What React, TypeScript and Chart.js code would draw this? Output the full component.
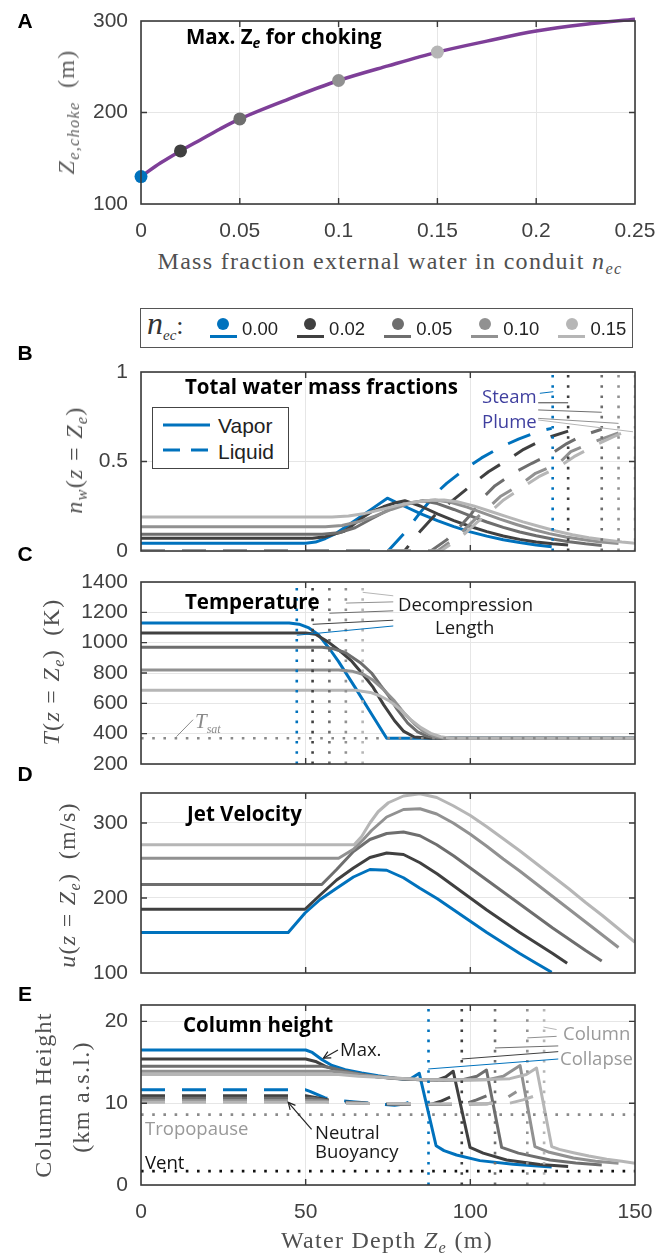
import React, { useEffect, useRef } from "react";
import { Chart, registerables } from "chart.js";
Chart.register(...registerables);

type P = number[][];

// ---------- shared ----------
const nEcLabels = ["0.00", "0.02", "0.05", "0.10", "0.15"];
const seriesColors = ["#0072BD", "#404040", "#6E6E6E", "#919191", "#B6B6B6"];

// ---------- Panel A ----------
const massFraction = [0, 0.01, 0.02, 0.03, 0.04, 0.05, 0.075, 0.1, 0.125, 0.15, 0.175, 0.2, 0.225, 0.25];
const zChoke = [130, 145, 158, 170, 182, 193, 215, 235, 251, 266, 278, 289, 296.5, 302];
const markerFraction = [0, 0.02, 0.05, 0.1, 0.15];
const markerZChoke = [130, 158, 193, 235, 266];

// ---------- Panel B (water mass fractions) ----------
const vapor000: P = [[0,0.043],[50,0.043],[53,0.05],[56,0.07],[59.4,0.1],[65,0.17],[70,0.234],[74.8,0.295],[80,0.25],[85,0.208],[90,0.17],[95,0.136],[100,0.107],[105,0.083],[110,0.063],[115,0.047],[120,0.034],[124.7,0.024]];
const vapor002: P = [[0,0.071],[52,0.071],[56,0.08],[61.4,0.108],[64,0.14],[67.5,0.19],[70,0.22],[73.6,0.247],[77,0.268],[80.1,0.281],[85,0.25],[90,0.208],[95,0.17],[100,0.137],[105,0.108],[110,0.084],[115,0.065],[120,0.05],[125,0.04],[129.7,0.034]];
const vapor005: P = [[0,0.093],[55,0.093],[60,0.102],[65,0.13],[70,0.18],[75,0.228],[80,0.263],[85.6,0.281],[90,0.265],[95,0.232],[100,0.196],[105,0.162],[110,0.132],[115,0.106],[120,0.085],[125,0.067],[130,0.052],[135,0.04],[139.9,0.031]];
const vapor010: P = [[0,0.136],[56,0.136],[61,0.142],[66,0.163],[71,0.195],[76,0.232],[81,0.262],[85,0.278],[89.3,0.285],[94,0.272],[99,0.245],[104,0.212],[109,0.178],[114,0.148],[119,0.12],[124,0.097],[129,0.078],[134,0.064],[139,0.052],[145,0.042]];
const vapor015: P = [[0,0.19],[58,0.19],[63,0.195],[68,0.21],[73,0.232],[78,0.255],[83,0.274],[88,0.284],[92,0.285],[96,0.275],[101,0.252],[106,0.222],[111,0.192],[116,0.163],[121,0.137],[126,0.112],[131,0.091],[136,0.074],[141,0.061],[146,0.05],[150,0.043]];
const liquid000: P = [[0,0],[75,0],[80,0.1],[85,0.22],[90,0.33],[92.8,0.378],[98.9,0.465],[103.4,0.52],[109.5,0.583],[114.6,0.625],[121.2,0.672],[124.7,0.685]];
const liquid002: P = [[0,0],[80,0],[85,0.115],[90,0.215],[95.4,0.294],[101,0.378],[105.5,0.443],[111.6,0.512],[116.2,0.568],[122.8,0.629],[129.7,0.67]];
const liquid005: P = [[0,0],[88,0],[93,0.065],[97,0.14],[100.4,0.21],[103.4,0.29],[107.5,0.365],[113.6,0.44],[118.7,0.49],[124.3,0.54],[129.3,0.6],[134,0.645],[139.9,0.68]];
const liquid010: P = [[0,0],[90,0],[96,0.08],[101,0.17],[106,0.25],[109.1,0.304],[115.7,0.378],[119.8,0.434],[126.9,0.49],[130.5,0.555],[137.6,0.61],[145,0.66]];
const liquid015: P = [[0,0],[91,0],[97,0.075],[102,0.16],[107,0.235],[110.1,0.285],[116.2,0.36],[120.8,0.415],[126.9,0.471],[131.5,0.527],[138.1,0.592],[143,0.635],[150,0.69]];
const steamPlumeDepths = [125, 129.7, 139.9, 145, 150];

// ---------- Panel C (temperature) ----------
const temp000: P = [[0,1130],[45,1130],[48,1122],[51,1097],[54,1050],[57.4,955],[60,875],[65,705],[70,530],[74.6,370],[150,370]];
const temp002: P = [[0,1063],[50,1063],[53,1055],[57,1002],[61,935],[64,878],[67.6,785],[70.5,705],[73.7,590],[77,485],[79.8,415],[83,378],[88,370],[150,370]];
const temp005: P = [[0,970],[55,970],[58,962],[62,935],[66.6,868],[70,800],[72.7,720],[75,655],[77.8,560],[81,470],[84,412],[87,382],[90,370],[150,370]];
const temp010: P = [[0,820],[60,820],[64,812],[67.6,790],[70.5,752],[73.7,690],[77,615],[79.8,538],[83,465],[85.9,412],[89,382],[92,370],[150,370]];
const temp015: P = [[0,687],[65,687],[69.6,672],[72.5,650],[75.7,612],[79,555],[81.9,492],[85,440],[88,402],[91,380],[94,370],[150,370]];
const tSat = 370;
const decompressionLengths = [47.3, 52.1, 57.2, 62.2, 67.3];

// ---------- Panel D (jet velocity) ----------
const velocity000: P = [[0,154],[44.7,154],[49.8,180],[54.4,198],[59.4,213],[64.5,228],[69.5,238],[74.6,237],[79.7,227],[84.7,213],[90,199],[95,184],[100,169],[105,154],[110,140],[115,126],[120,113],[124.7,101]];
const velocity002: P = [[0,185],[49.8,185],[54.4,204],[59.4,224],[64.5,240],[69.5,254],[74.6,260],[79.7,258],[84.7,247],[90,232],[95,216],[100,200],[105,184],[110,169],[115,154],[120,140],[125,126],[129.4,113]];
const velocity005: P = [[0,218],[54.9,218],[59.4,238],[64.5,262],[69.5,278],[74.6,286],[79.7,288],[84.7,283],[89.8,271],[95,256],[100,240],[105,224],[110,208],[115,192],[120,176],[125,160],[130,145],[135,130],[139.9,116]];
const velocity010: P = [[0,253],[60,253],[64.5,265],[67.5,278],[70,290],[74.6,308],[79.7,318],[84.7,319],[89.8,312],[94.8,300],[100,285],[105,269],[110,252],[115,236],[120,219],[125,202],[130,185],[135,168],[140,151],[145,134]];
const velocity015: P = [[0,271],[64.7,271],[67,282],[69.5,300],[72,315],[75.1,327],[79.7,336],[84.7,339],[89.8,334],[94.8,323],[100,310],[105,295],[110,279],[115,263],[120,246],[125,229],[130,212],[135,194],[140,177],[145,159],[150,141]];

// ---------- Panel E (column height) ----------
const maxHeight000: P = [[0,16.5],[50,16.5],[52,16.2],[55,15.3],[58,14.6],[62,14.1],[67,13.7],[72,13.35],[77,13.05],[81.5,12.9],[84.5,13.65],[89.6,4.8],[92,4.2],[95.8,3.67],[102.9,2.98],[113,2.53],[124.7,2.2]];
const maxHeight002: P = [[0,15.4],[50,15.4],[53,15.1],[56,14.5],[60,14.0],[65,13.6],[70,13.3],[75,13.1],[80,12.95],[85,12.85],[90,12.85],[92.5,13.2],[94.8,13.9],[99.9,4.6],[103.9,3.9],[111,3.06],[121.1,2.5],[129.7,2.25]];
const maxHeight005: P = [[0,14.5],[55,14.5],[58,14.3],[62,13.9],[67,13.5],[72,13.2],[78,13.0],[85,12.85],[92,12.8],[98,12.9],[102,13.3],[104.9,14.05],[109.5,4.6],[114.6,3.9],[124.2,3.06],[132,2.7],[139.9,2.45]];
const maxHeight010: P = [[0,13.9],[58,13.9],[63,13.7],[68,13.4],[75,13.1],[85,12.9],[95,12.8],[105,12.85],[110,13.3],[115.1,14.6],[119.6,4.7],[124,4.0],[131.3,3.3],[138,2.9],[145,2.65]];
const maxHeight015: P = [[0,13.5],[60,13.5],[66,13.3],[75,13.1],[85,12.9],[95,12.85],[105,12.9],[112,13.0],[117,13.5],[120.1,14.3],[124.7,4.7],[127,4.35],[131.3,3.95],[136,3.55],[141.4,3.15],[146,2.9],[150,2.65]];
const neutral000: P = [[0,11.63],[50,11.63],[51.3,11.45],[55.9,10.65],[60,10.35],[65,10.15],[72,9.9],[77,9.75],[80,9.9],[82.7,10.3],[84.5,10.7]];
const neutral002: P = [[0,10.9],[50,10.9],[53,10.7],[57,10.4],[62,10.15],[70,9.95],[80,9.85],[88,9.85],[90.8,10.2],[94.8,10.9]];
const neutral005: P = [[0,10.6],[52,10.6],[56,10.35],[62,10.1],[70,9.95],[85,9.85],[98,9.85],[101.9,10.4],[104.9,10.9]];
const neutral010: P = [[0,10.3],[54,10.3],[60,10.1],[70,9.95],[90,9.85],[105,9.9],[110,10.4],[114,11.4]];
const neutral015: P = [[0,10.1],[56,10.1],[62,10.0],[75,9.95],[95,9.9],[112,10.0],[116,10.4],[119.6,10.9]];
const tropopauseHeight = 8.6;
const ventHeight = 1.7;
const collapseDepths = [87.3, 97.4, 107.5, 117.3, 122.4];

const vaporSeries = [vapor000, vapor002, vapor005, vapor010, vapor015];
const liquidSeries = [liquid000, liquid002, liquid005, liquid010, liquid015];
const tempSeries = [temp000, temp002, temp005, temp010, temp015];
const velocitySeries = [velocity000, velocity002, velocity005, velocity010, velocity015];
const maxHeightSeries = [maxHeight000, maxHeight002, maxHeight005, maxHeight010, maxHeight015];
const neutralSeries = [neutral000, neutral002, neutral005, neutral010, neutral015];

// ---------- helpers ----------
const serif = '"Liberation Serif", "Times New Roman", serif';
const sans = '"Liberation Sans", Arial, sans-serif';
const myriad = '"Open Sans", "Noto Sans", sans-serif';
const tickFont = { family: sans, size: 21 };
const tickColor = "#404040";
const gridColor = "#e6e6e6";

interface Seg { x1: number; y1: number; x2: number; y2: number; color: string; width?: number; arrow?: boolean }

const toXY = (p: P) => p.map(([x, y]) => ({ x, y }));
const solid = (p: P, color: string, order: number, extra: any = {}) => ({
  data: toXY(p), borderColor: color, borderWidth: 3, pointRadius: 0, fill: false,
  tension: 0, order, borderJoinStyle: "round", borderCapStyle: "butt", ...extra,
});
const dashed = (p: P, color: string, order: number) => solid(p, color, order, { borderDash: [24, 17] });
const dottedV = (x: number, y0: number, y1: number, color: string) => ({
  data: [{ x, y: y0 }, { x, y: y1 }], borderColor: color, borderWidth: 2.6,
  borderDash: [2.6, 7.6], pointRadius: 0, fill: false, order: 0, borderCapStyle: "butt",
});
const dottedH = (y: number, x0: number, x1: number, color: string) => ({
  data: [{ x: x0, y }, { x: x1, y }], borderColor: color, borderWidth: 2.6,
  borderDash: [2.6, 8.6], pointRadius: 0, fill: false, order: 0, borderCapStyle: "butt",
});

const framePlugin = (segs: Seg[]) => ({
  id: "frame",
  afterDraw(chart: any) {
    const { ctx, chartArea: a, scales } = chart;
    const xs = scales.x, ys = scales.y;
    ctx.save();
    for (const s of segs) {
      const x1 = xs.getPixelForValue(s.x1), y1 = ys.getPixelForValue(s.y1);
      const x2 = xs.getPixelForValue(s.x2), y2 = ys.getPixelForValue(s.y2);
      ctx.strokeStyle = s.color; ctx.lineWidth = s.width ?? 1;
      ctx.beginPath(); ctx.moveTo(x1, y1); ctx.lineTo(x2, y2); ctx.stroke();
      if (s.arrow) {
        const ang = Math.atan2(y2 - y1, x2 - x1);
        const L = 7, W = 3.5;
        ctx.beginPath();
        ctx.moveTo(x2 - L * Math.cos(ang) + W * Math.sin(ang), y2 - L * Math.sin(ang) - W * Math.cos(ang));
        ctx.lineTo(x2, y2);
        ctx.lineTo(x2 - L * Math.cos(ang) - W * Math.sin(ang), y2 - L * Math.sin(ang) + W * Math.cos(ang));
        ctx.stroke();
      }
    }
    ctx.strokeStyle = "#3a3a3a";
    ctx.lineWidth = 1.6;
    ctx.strokeRect(a.left, a.top, a.right - a.left, a.bottom - a.top);
    const tl = 6;
    ctx.lineWidth = 1.4;
    ctx.beginPath();
    xs.ticks.forEach((t: any) => {
      const p = xs.getPixelForValue(t.value);
      if (p <= a.left + 1 || p >= a.right - 1) return;
      ctx.moveTo(p, a.bottom); ctx.lineTo(p, a.bottom - tl);
      ctx.moveTo(p, a.top); ctx.lineTo(p, a.top + tl);
    });
    ys.ticks.forEach((t: any) => {
      const p = ys.getPixelForValue(t.value);
      if (p <= a.top + 1 || p >= a.bottom - 1) return;
      ctx.moveTo(a.left, p); ctx.lineTo(a.left + tl, p);
      ctx.moveTo(a.right, p); ctx.lineTo(a.right - tl, p);
    });
    ctx.stroke();
    ctx.restore();
  },
});

interface Spec {
  datasets: any[]; xMin: number; xMax: number; xStep: number;
  yMin: number; yMax: number; yStep: number; padTop: number; xH: number; showX: boolean; segs: Seg[];
}
const fmt = (v: number) => String(Math.round(v * 1000) / 1000);

function makeConfig(s: Spec): any {
  return {
    type: "line",
    data: { datasets: s.datasets },
    options: {
      responsive: false, animation: false, devicePixelRatio: 1, events: [],
      layout: { padding: { top: s.padTop, right: 20, left: 0, bottom: 0 } },
      plugins: { legend: { display: false }, tooltip: { enabled: false } },
      scales: {
        x: {
          type: "linear", min: s.xMin, max: s.xMax,
          ticks: { stepSize: s.xStep, display: s.showX, color: tickColor, font: tickFont, padding: 15,
            maxRotation: 0, autoSkip: false, includeBounds: false, callback: (v: number) => fmt(v) },
          grid: { color: gridColor, lineWidth: 1, drawTicks: false },
          border: { display: false },
          afterFit: (sc: any) => { sc.height = s.xH; sc.paddingLeft = 0; sc.paddingRight = 0; },
        },
        y: {
          type: "linear", min: s.yMin, max: s.yMax,
          ticks: { stepSize: s.yStep, color: tickColor, font: tickFont, padding: 13,
            autoSkip: false, includeBounds: false, callback: (v: number) => fmt(v) },
          grid: { color: gridColor, lineWidth: 1, drawTicks: false },
          border: { display: false },
          afterFit: (sc: any) => { sc.width = 141; sc.paddingTop = 0; sc.paddingBottom = 0; },
        },
      },
    },
    plugins: [framePlugin(s.segs)],
  };
}

// ---------- text helpers ----------
function Txt(props: { x: number; y: number; c?: boolean; rot?: boolean; style?: React.CSSProperties; children: React.ReactNode }) {
  let transform = props.c ? "translate(-50%,-50%)" : "translateY(-50%)";
  if (props.rot) transform = "translate(-50%,-50%) rotate(-90deg)";
  return (
    <div style={{ position: "absolute", left: props.x, top: props.y, transform, whiteSpace: "nowrap", lineHeight: 1, ...props.style }}>
      {props.children}
    </div>
  );
}
const Sub = ({ children }: { children: React.ReactNode }) => (
  <span style={{ fontSize: "0.68em", position: "relative", top: "0.3em" }}>{children}</span>
);
const I = ({ children }: { children: React.ReactNode }) => <span style={{ fontStyle: "italic" }}>{children}</span>;

const axisTitle: React.CSSProperties = { fontFamily: serif, fontSize: 24, letterSpacing: 1.3, color: "#505050" };
const boldTitle: React.CSSProperties = { fontFamily: myriad, fontWeight: 700, fontSize: 20.5, color: "#000" };
const note: React.CSSProperties = { fontFamily: myriad, fontSize: 18.5, color: "#1a1a1a" };
const letter: React.CSSProperties = { fontFamily: sans, fontWeight: 700, fontSize: 21, color: "#000" };

export default function App() {
  const refA = useRef<HTMLCanvasElement>(null);
  const refB = useRef<HTMLCanvasElement>(null);
  const refC = useRef<HTMLCanvasElement>(null);
  const refD = useRef<HTMLCanvasElement>(null);
  const refE = useRef<HTMLCanvasElement>(null);

  useEffect(() => {
    const charts: Chart[] = [];
    const order = (i: number) => 10 - i;

    // A
    charts.push(new Chart(refA.current!, makeConfig({
      datasets: [
        { data: markerFraction.map((x, i) => ({ x, y: markerZChoke[i] })), showLine: false, pointRadius: 6.5,
          pointBackgroundColor: seriesColors, pointBorderWidth: 0, order: -1, clip: false },
        { data: massFraction.map((x, i) => ({ x, y: zChoke[i] })), borderColor: "#7E3F98", borderWidth: 3.5,
          pointRadius: 0, cubicInterpolationMode: "monotone", fill: false, order: 5, clip: 6 },
      ],
      xMin: 0, xMax: 0.25, xStep: 0.05, yMin: 100, yMax: 300, yStep: 100, padTop: 21, xH: 44, showX: true, segs: [],
    })));

    // B
    const dsB: any[] = [];
    for (let i = 0; i < 5; i++) {
      dsB.push(solid(vaporSeries[i], seriesColors[i], order(i)));
      dsB.push(dashed(liquidSeries[i], seriesColors[i], order(i)));
      dsB.push(dottedV(steamPlumeDepths[i], 0, 1, seriesColors[i]));
    }
    charts.push(new Chart(refB.current!, makeConfig({
      datasets: dsB, xMin: 0, xMax: 150, xStep: 50, yMin: 0, yMax: 1, yStep: 0.5, padTop: 16, xH: 14, showX: false,
      segs: [
        { x1: 121.1, y1: 0.881, x2: 125.2, y2: 0.89, color: seriesColors[0] },
        { x1: 120.6, y1: 0.828, x2: 129.7, y2: 0.828, color: seriesColors[1] },
        { x1: 120.6, y1: 0.788, x2: 139.9, y2: 0.775, color: seriesColors[2] },
        { x1: 120.6, y1: 0.741, x2: 145, y2: 0.713, color: seriesColors[3] },
        { x1: 120.6, y1: 0.732, x2: 149.4, y2: 0.666, color: seriesColors[4] },
      ],
    })));

    // C
    const dsC: any[] = [dottedH(tSat, 0, 150, "#8a8a8a")];
    for (let i = 0; i < 5; i++) {
      dsC.push(solid(tempSeries[i], seriesColors[i], order(i)));
      dsC.push(dottedV(decompressionLengths[i], 200, 1400, seriesColors[i]));
    }
    charts.push(new Chart(refC.current!, makeConfig({
      datasets: dsC, xMin: 0, xMax: 150, xStep: 50, yMin: 200, yMax: 1400, yStep: 200, padTop: 16, xH: 14, showX: false,
      segs: [
        { x1: 76.6, y1: 1110, x2: 47.3, y2: 1049, color: seriesColors[0] },
        { x1: 76.6, y1: 1148, x2: 52.1, y2: 1121, color: seriesColors[1] },
        { x1: 76.6, y1: 1210, x2: 57.2, y2: 1194, color: seriesColors[2] },
        { x1: 76.6, y1: 1269, x2: 62.2, y2: 1261, color: seriesColors[3] },
        { x1: 76.6, y1: 1309, x2: 67.3, y2: 1332, color: seriesColors[4] },
        { x1: 10.8, y1: 381, x2: 15.8, y2: 492, color: "#8a8a8a" },
      ],
    })));

    // D
    const dsD: any[] = velocitySeries.map((s, i) => solid(s, seriesColors[i], order(i)));
    charts.push(new Chart(refD.current!, makeConfig({
      datasets: dsD, xMin: 0, xMax: 150, xStep: 50, yMin: 100, yMax: 340, yStep: 100, padTop: 15, xH: 14, showX: false, segs: [],
    })));

    // E
    const dsE: any[] = [dottedH(tropopauseHeight, 0, 150, "#8a8a8a"), dottedH(ventHeight, 0, 150, "#111111")];
    for (let i = 0; i < 5; i++) {
      dsE.push(solid(maxHeightSeries[i], seriesColors[i], order(i)));
      dsE.push(dashed(neutralSeries[i], seriesColors[i], order(i)));
      dsE.push(dottedV(collapseDepths[i], 0, 22, seriesColors[i]));
    }
    charts.push(new Chart(refE.current!, makeConfig({
      datasets: dsE, xMin: 0, xMax: 150, xStep: 50, yMin: 0, yMax: 22, yStep: 10, padTop: 17, xH: 44, showX: true,
      segs: [
        { x1: 87.2, y1: 14.18, x2: 126.7, y2: 15.4, color: seriesColors[0] },
        { x1: 97.4, y1: 15.4, x2: 126.7, y2: 16.3, color: seriesColors[1] },
        { x1: 107.5, y1: 16.75, x2: 126.7, y2: 17.0, color: seriesColors[2] },
        { x1: 117.3, y1: 17.98, x2: 126.2, y2: 18.17, color: seriesColors[3] },
        { x1: 122.2, y1: 19.3, x2: 126.2, y2: 19.0, color: seriesColors[4] },
        { x1: 59.8, y1: 16.5, x2: 55.4, y2: 15.5, color: "#222", width: 1.2, arrow: true },
        { x1: 51.8, y1: 6.8, x2: 44.7, y2: 10.1, color: "#222", width: 1.2, arrow: true },
      ],
    })));

    return () => charts.forEach((c) => c.destroy());
  }, []);

  const cv = (top: number, h: number): React.CSSProperties => ({ position: "absolute", left: 0, top, width: 655, height: h });

  return (
    <div style={{ position: "absolute", left: 0, top: 0, width: 655, height: 1257, background: "#fff", overflow: "hidden" }}>
      <canvas ref={refA} width={655} height={248} style={cv(0, 248)} />
      <canvas ref={refB} width={655} height={209} style={cv(356, 209)} />
      <canvas ref={refC} width={655} height={212} style={cv(566, 212)} />
      <canvas ref={refD} width={655} height={209} style={cv(778, 209)} />
      <canvas ref={refE} width={655} height={241} style={cv(988, 241)} />

      {/* panel letters */}
      <Txt x={25} y={20} c style={letter}>A</Txt>
      <Txt x={25} y={352} c style={letter}>B</Txt>
      <Txt x={25} y={553} c style={letter}>C</Txt>
      <Txt x={25} y={773} c style={letter}>D</Txt>
      <Txt x={25} y={993} c style={letter}>E</Txt>

      {/* axis titles */}
      <Txt x={66} y={112} rot style={{ ...axisTitle, color: "#606060" }}>
        <I>Z</I><Sub><I>e,choke</I></Sub>{"\u2002"}(m)
      </Txt>
      <Txt x={390} y={261} c style={axisTitle}>
        Mass fraction external water in conduit <I>n</I><Sub><I>ec</I></Sub>
      </Txt>
      <Txt x={74} y={460} rot style={axisTitle}>
        <I>n</I><Sub><I>w</I></Sub>(<I>z</I> = <I>Z</I><Sub><I>e</I></Sub>)
      </Txt>
      <Txt x={51} y={672} rot style={axisTitle}>
        <I>T</I>(<I>z</I> = <I>Z</I><Sub><I>e</I></Sub>){"\u2002"}(K)
      </Txt>
      <Txt x={67} y={885} rot style={axisTitle}>
        <I>u</I>(<I>z</I> = <I>Z</I><Sub><I>e</I></Sub>){"\u2002"}(m/s)
      </Txt>
      <Txt x={43} y={1095} rot style={axisTitle}>Column Height</Txt>
      <Txt x={81} y={1097} rot style={axisTitle}>(km a.s.l.)</Txt>
      <Txt x={387} y={1240} c style={axisTitle}>
        Water Depth <I>Z</I><Sub><I>e</I></Sub> (m)
      </Txt>

      {/* panel titles */}
      <Txt x={186} y={36} style={boldTitle}>
        Max. Z<Sub><I>e</I></Sub> for choking
      </Txt>
      <Txt x={185} y={386} style={boldTitle}>Total water mass fractions</Txt>
      <Txt x={185} y={601} style={boldTitle}>Temperature</Txt>
      <Txt x={187} y={813} style={boldTitle}>Jet Velocity</Txt>
      <Txt x={183} y={1024} style={boldTitle}>Column height</Txt>

      {/* n_ec legend */}
      <div style={{ position: "absolute", left: 140, top: 308, width: 493, height: 40, border: "1.3px solid #555", boxSizing: "border-box", background: "#fff" }} />
      <Txt x={147} y={323} style={{ fontFamily: serif, fontSize: 32, color: "#333" }}>
        <I>n</I><span style={{ fontSize: 15, fontStyle: "italic", position: "relative", top: 6 }}>ec</span><span style={{ fontSize: 26 }}>:</span>
      </Txt>
      {nEcLabels.map((lab, i) => {
        const x0 = 210 + 87.1 * i;
        return (
          <React.Fragment key={lab}>
            <div style={{ position: "absolute", left: x0 + 7.3, top: 318.3, width: 12, height: 12, borderRadius: "50%", background: seriesColors[i] }} />
            <div style={{ position: "absolute", left: x0, top: 335.2, width: 27, height: 3, background: seriesColors[i] }} />
            <Txt x={x0 + 32} y={328.5} style={{ fontFamily: sans, fontSize: 18.5, color: "#222" }}>{lab}</Txt>
          </React.Fragment>
        );
      })}

      {/* B legend */}
      <div style={{ position: "absolute", left: 152, top: 407, width: 137, height: 62, border: "1.3px solid #444", boxSizing: "border-box", background: "#fff" }} />
      <svg style={{ position: "absolute", left: 0, top: 0 }} width={655} height={1257}>
        <line x1={163} y1={425} x2={210} y2={425} stroke={seriesColors[0]} strokeWidth={3} />
        <line x1={163} y1={450} x2={210} y2={450} stroke={seriesColors[0]} strokeWidth={3} strokeDasharray="17 11" />
      </svg>
      <Txt x={218} y={425} style={{ fontFamily: sans, fontSize: 21, color: "#222" }}>Vapor</Txt>
      <Txt x={218} y={451} style={{ fontFamily: sans, fontSize: 21, color: "#222" }}>Liquid</Txt>

      {/* B notes */}
      <Txt x={482} y={395.5} style={{ ...note, color: "#3f3f9f" }}>Steam</Txt>
      <Txt x={482} y={420.5} style={{ ...note, color: "#3f3f9f" }}>Plume</Txt>

      {/* C notes */}
      <Txt x={398} y={603.5} style={note}>Decompression</Txt>
      <Txt x={435} y={627} style={note}>Length</Txt>
      <Txt x={195} y={721} style={{ fontFamily: serif, fontSize: 21, color: "#8a8a8a" }}>
        <I>T</I><span style={{ fontSize: 12, fontStyle: "italic", position: "relative", top: 5 }}>sat</span>
      </Txt>

      {/* E notes */}
      <Txt x={340} y={1049} style={note}>Max.</Txt>
      <Txt x={315} y={1132} style={note}>Neutral</Txt>
      <Txt x={315} y={1151} style={note}>Buoyancy</Txt>
      <Txt x={145} y={1128} style={{ ...note, color: "#999" }}>Tropopause</Txt>
      <Txt x={145} y={1162} style={{ ...note, color: "#111" }}>Vent</Txt>
      <Txt x={563} y={1033} style={{ ...note, color: "#9a9a9a" }}>Column</Txt>
      <Txt x={560} y={1058} style={{ ...note, color: "#9a9a9a" }}>Collapse</Txt>
    </div>
  );
}
